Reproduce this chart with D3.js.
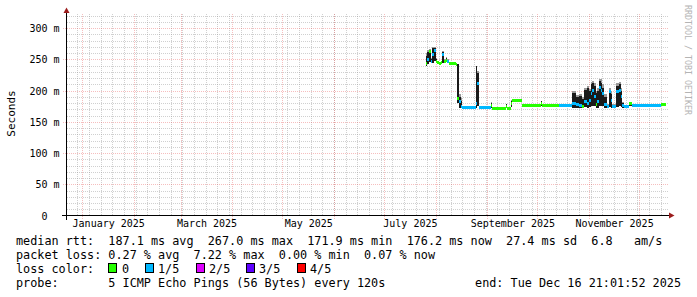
<!DOCTYPE html>
<html>
<head>
<meta charset="utf-8">
<script src="https://cdn.jsdelivr.net/npm/d3@7"></script>
<style>
  body { margin: 0; padding: 0; background: #fff; overflow: hidden; }
  text { font-family: "DejaVu Sans Mono", monospace; white-space: pre; }
</style>
</head>
<body>
<script>
// smokeping style latency graph, last 360 days
const endTime = "2025-12-16T21:01:52";
const spanDays = 360;

// buckets (start of each step), values in ms
const times = [
  "2025-07-26", "2025-07-27", "2025-07-28", "2025-07-29", "2025-07-30", "2025-07-31", "2025-08-01", "2025-08-02",
  "2025-08-03", "2025-08-04", "2025-08-05", "2025-08-06", "2025-08-07", "2025-08-08", "2025-08-09", "2025-08-11",
  "2025-08-13", "2025-08-14", "2025-08-15", "2025-08-16", "2025-08-17", "2025-08-25", "2025-08-26", "2025-08-27",
  "2025-09-03", "2025-09-04", "2025-09-12", "2025-09-13", "2025-09-15", "2025-09-16", "2025-09-22", "2025-10-03",
  "2025-10-04", "2025-10-14", "2025-10-22", "2025-10-24", "2025-10-26", "2025-10-28", "2025-10-29", "2025-10-31",
  "2025-11-01", "2025-11-02", "2025-11-03", "2025-11-04", "2025-11-05", "2025-11-06", "2025-11-07", "2025-11-08",
  "2025-11-09", "2025-11-10", "2025-11-12", "2025-11-13", "2025-11-14", "2025-11-15", "2025-11-17", "2025-11-19",
  "2025-11-20", "2025-11-21", "2025-11-22", "2025-11-25", "2025-11-27", "2025-12-05", "2025-12-07", "2025-12-14"
];
const median = [
  243, 250, 262, 246, 258, 264, 246, 245,
  244, 245, 258, 247, 249, 246, 243, 243,
  242, 188, 182, 174, 173, 180, 212, 173,
  177, 172, 174, 172, 180, 184, 176, 180,
  176, 176, 180, 178, 176, 175, 183, 180,
  185, 195, 200, 190, 178, 182, 205, 200,
  195, 178, 175, 199, 185, 175, 198, 200,
  190, 176, 174, 180, 177, 177, 176, 178
];
// loss index: 0, 1/5, 2/5, 3/5, 4/5
const loss = [
  0, 1, 0, 1, 1, 1, 0, 0,
  0, 0, 1, 0, 0, 1, 0, 0,
  0, 0, 1, 1, 1, 1, 1, 1,
  0, 0, 0, 0, 0, 0, 0, 0,
  0, 1, 1, 1, 1, 0, 1, 1,
  1, 1, 1, 1, 0, 1, 1, 1,
  1, 1, 1, 1, 1, 1, 1, 1,
  1, 1, 1, 0, 1, 1, 1, 0
];
const smokeLo = [
  240, 242, 246, 244, 245, 248, 244, 244,
  243, 244, 245, 245, 246, 244, 242, 242,
  241, 180, 173, 172, 172, 172, 176, 172,
  172, 171, 172, 171, 174, 183, 175, 175,
  175, 175, 172, 173, 172, 172, 174, 173,
  174, 175, 176, 175, 172, 173, 176, 175,
  175, 173, 172, 174, 173, 172, 174, 175,
  174, 172, 172, 175, 175, 175, 175, 176
];
const smokeHi = [
  256, 262, 264, 250, 268, 268, 250, 246,
  245, 247, 262, 249, 252, 249, 244, 244,
  243, 242, 190, 184, 174, 239, 228, 174,
  181, 173, 178, 173, 184, 185, 177, 183,
  177, 177, 196, 190, 192, 186, 201, 204,
  200, 210, 212, 207, 196, 200, 215, 213,
  205, 190, 177, 201, 195, 177, 208, 211,
  200, 180, 175, 181, 178, 178, 177, 179
];
const smokeTop = [
  260, 265, 266, 253, 270, 270, 252, 247,
  246, 248, 264, 250, 254, 250, 245, 245,
  244, 243, 195, 188, 175, 240, 232, 175,
  182, 174, 179, 174, 185, 186, 178, 184,
  178, 178, 200, 193, 195, 190, 205, 208,
  203, 214, 216, 212, 200, 204, 219, 218,
  210, 195, 179, 205, 200, 178, 213, 214,
  205, 182, 176, 182, 179, 179, 178, 180
];

const lossLabels = ["0", "1/5", "2/5", "3/5", "4/5"];
const lossColors = ["#26ff00", "#00b8ff", "#dd00ff", "#5e00ff", "#ff0000"];

const yMajor = [0, 50, 100, 150, 200, 250, 300];
const yMinorStep = 10;
const yMax = 322;

const legendLines = [
  "median rtt:  187.1 ms avg  267.0 ms max  171.9 ms min  176.2 ms now  27.4 ms sd  6.8   am/s",
  "packet loss: 0.27 % avg  7.22 % max  0.00 % min  0.07 % now",
  "loss color:",
  "probe:       5 ICMP Echo Pings (56 Bytes) every 120s"
];
const endLabel = "end: Tue Dec 16 21:01:52 2025";
const watermark = "RRDTOOL / TOBI OETIKER";

const width = 697, height = 297;
const svg = d3.select("body").append("svg")
    .attr("width", width)
    .attr("height", height);

const parseEnd = d3.utcParse("%Y-%m-%dT%H:%M:%S");
const parseDay = d3.utcParse("%Y-%m-%d");
const end = parseEnd(endTime);
const start = d3.utcDay.offset(end, -spanDays);

const x = d3.scaleUtc().domain([start, end]).range([65.5, 665.5]);
const y = d3.scaleLinear().domain([0, yMax]).range([215.5, 14.5]);

const px = v => Math.round(v) + 0.5;
const plotLeft = 66.5, plotRight = 668, plotTop = 14, plotBottom = 215.5;

// grid
const grid = svg.append("g").attr("shape-rendering", "crispEdges");
const minorCol = "rgba(150,150,150,0.45)";
const majorCol = "rgba(230,70,70,0.35)";

d3.range(yMinorStep, yMax, yMinorStep).filter(v => v % 50 !== 0).forEach(v => {
  grid.append("line").attr("x1", plotLeft).attr("x2", plotRight)
    .attr("y1", px(y(v))).attr("y2", px(y(v)))
    .attr("stroke", minorCol).attr("stroke-dasharray", "1,1");
});
d3.utcSunday.range(start, end).forEach(d => {
  grid.append("line").attr("x1", px(x(d))).attr("x2", px(x(d)))
    .attr("y1", plotTop).attr("y2", plotBottom)
    .attr("stroke", minorCol).attr("stroke-dasharray", "1,1");
});
yMajor.filter(v => v > 0).forEach(v => {
  grid.append("line").attr("x1", 63).attr("x2", plotRight + 1)
    .attr("y1", px(y(v))).attr("y2", px(y(v)))
    .attr("stroke", majorCol).attr("stroke-dasharray", "1,1");
});
const months = d3.utcMonth.range(start, end);
months.forEach(d => {
  grid.append("line").attr("x1", px(x(d))).attr("x2", px(x(d)))
    .attr("y1", plotTop).attr("y2", 219)
    .attr("stroke", majorCol).attr("stroke-dasharray", "1,1");
});

// data rows
const rows = times.map((t, i) => ({
  t0: parseDay(t),
  t1: i < times.length - 1 ? parseDay(times[i + 1]) : end,
  m: median[i], l: loss[i], lo: smokeLo[i], hi: smokeHi[i], mx: smokeTop[i]
}));

const plot = svg.append("g").attr("shape-rendering", "crispEdges");
const bw = d => Math.max(1, x(d.t1) - x(d.t0));

plot.selectAll("rect.smoke-top").data(rows).enter().append("rect")
    .attr("x", d => x(d.t0)).attr("width", bw)
    .attr("y", d => y(d.mx))
    .attr("height", d => y(d.hi) - y(d.mx))
    .attr("fill", "#9a9a9a");

plot.selectAll("rect.smoke").data(rows).enter().append("rect")
    .attr("x", d => x(d.t0)).attr("width", bw)
    .attr("y", d => y(d.hi))
    .attr("height", d => y(d.lo) - y(d.hi))
    .attr("fill", "#1a1a1a");

// median band, coloured by loss (no vertical joins, like stacked areas)
plot.selectAll("rect.median").data(rows).enter().append("rect")
    .attr("x", d => x(d.t0)).attr("width", bw)
    .attr("y", d => y(d.m) - 1.5)
    .attr("height", 3)
    .attr("fill", d => lossColors[d.l]);

// axes lines
const axes = svg.append("g").attr("shape-rendering", "crispEdges");
axes.append("line").attr("x1", 62).attr("x2", 669).attr("y1", plotBottom).attr("y2", plotBottom).attr("stroke", "#000");
axes.append("line").attr("x1", plotLeft).attr("x2", plotLeft).attr("y1", 220).attr("y2", 11).attr("stroke", "#000");
svg.append("path").attr("d", "M669,212.5L674.5,215.5L669,218.5Z").attr("fill", "#9b1c1c");
svg.append("path").attr("d", "M63.5,13L66.5,7.5L69.5,13Z").attr("fill", "#9b1c1c");

// y labels (zero keeps the unit column blank)
const yAxis = d3.axisLeft(y).tickValues(yMajor).tickSize(0).tickPadding(0)
    .tickFormat(v => v === 0 ? "0\u00a0\u00a0" : v + " m");
const gy = svg.append("g").attr("transform", "translate(59.5,0)").call(yAxis);
gy.select(".domain").remove();
gy.selectAll("text").attr("font-family", "DejaVu Sans Mono").attr("font-size", 10)
  .attr("fill", "#000").attr("dy", "0.35em");

// x labels at mid-month of every second month
const labelMonths = months.filter(d => d.getUTCMonth() % 2 === 0);
const mid = d => new Date((+d + +d3.utcMonth.offset(d, 1)) / 2);
const xAxis = d3.axisBottom(x).tickValues(labelMonths.map(mid)).tickSize(0).tickPadding(0)
    .tickFormat(d => d3.utcFormat("%B %Y")(d));
const gx = svg.append("g").attr("transform", "translate(0,220)").call(xAxis);
gx.select(".domain").remove();
gx.selectAll("text").attr("font-family", "DejaVu Sans Mono").attr("font-size", 10)
  .attr("fill", "#000").attr("dy", "0.71em");

// titles
svg.append("text").attr("transform", "translate(15,113.5) rotate(-90)")
    .attr("text-anchor", "middle").attr("font-size", 11).text("Seconds");
svg.append("text").attr("transform", "translate(684.5,60) rotate(90)")
    .attr("text-anchor", "middle").attr("font-size", 8.3).attr("fill", "#b4b4b4").text(watermark);

// legend
const legY = [245, 259, 273, 287];
legendLines.forEach((s, i) => {
  svg.append("text").attr("x", 16).attr("y", legY[i]).attr("font-size", 11.8).text(s);
});
svg.append("text").attr("x", 681).attr("y", legY[3]).attr("text-anchor", "end")
    .attr("font-size", 11.8).text(endLabel);

const boxX = [108, 145, 196, 246, 297];
const boxLabelX = [122, 158, 209, 259, 310];
lossLabels.forEach((s, i) => {
  svg.append("rect").attr("x", boxX[i] + 0.5).attr("y", legY[2] - 9.5)
    .attr("width", 8).attr("height", 9)
    .attr("fill", lossColors[i]).attr("stroke", "#000").attr("shape-rendering", "crispEdges");
  svg.append("text").attr("x", boxLabelX[i]).attr("y", legY[2]).attr("font-size", 11.8).text(s);
});
</script>
</body>
</html>
